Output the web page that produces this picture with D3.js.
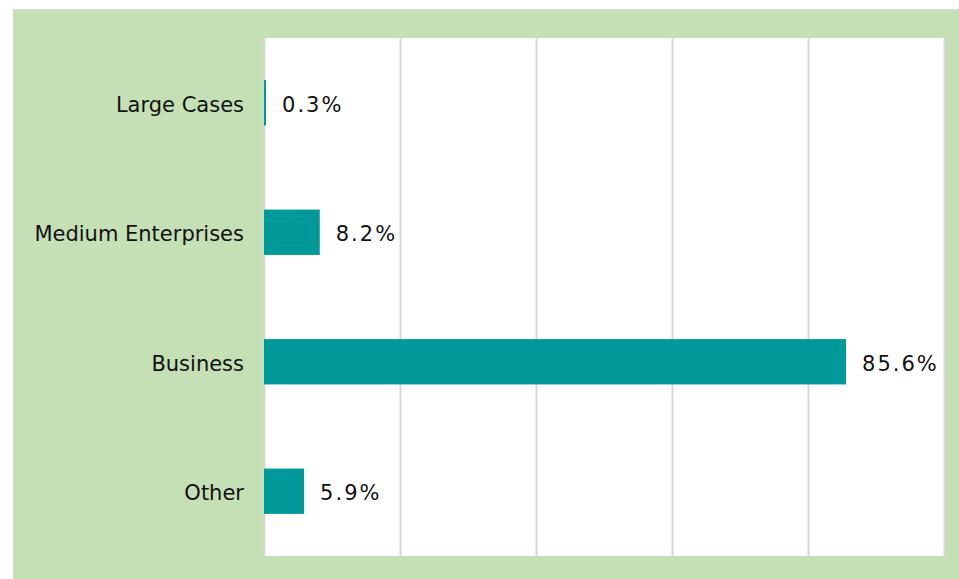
<!DOCTYPE html>
<html>
<head>
<meta charset="utf-8">
<script src="https://cdn.jsdelivr.net/npm/d3@7"></script>
<style>
  body { margin: 0; background: #fff; }
  svg { display: block; font-family: "DejaVu Sans", Verdana, sans-serif; }
</style>
</head>
<body>
<svg id="chart" width="959" height="579"></svg>
<script>
// data
var categories = ["Large Cases", "Medium Enterprises", "Business", "Other"];
var shares = [0.3, 8.2, 85.6, 5.9];
var gridTicks = [0, 20, 40, 60, 80, 100];

var w = 959, h = 579;
var svg = d3.select("#chart");

// green outer panel with thin grey edge
svg.append("rect")
    .attr("x", 13.5).attr("y", 9.5)
    .attr("width", w - 13).attr("height", h - 9)
    .style("fill", "#c5e0b4")
    .style("stroke", "#d9d9d9")
    .style("stroke-width", 1);

var plot = { left: 264, right: 944, top: 38, bottom: 556 };

// white plot area
svg.append("rect")
    .attr("x", plot.left).attr("y", plot.top)
    .attr("width", plot.right - plot.left)
    .attr("height", plot.bottom - plot.top)
    .style("fill", "#fff");

var xScale = d3.scaleLinear().domain([0, 100]).range([plot.left, plot.right]);
var yScale = d3.scaleBand()
    .domain(categories)
    .range([plot.top, plot.bottom])
    .paddingInner(0.65)
    .paddingOuter(0.325);

// vertical gridlines
var grid = svg.append("g")
    .attr("class", "grid")
    .attr("transform", `translate(0,${plot.bottom})`)
    .call(d3.axisBottom(xScale)
        .tickValues(gridTicks)
        .tickSize(-(plot.bottom - plot.top))
        .tickFormat(""));
grid.select(".domain").remove();
grid.selectAll("line")
    .style("stroke", "#d9d9d9")
    .style("stroke-width", 2);

// category labels
var yAxis = svg.append("g")
    .attr("transform", `translate(${plot.left},0)`)
    .call(d3.axisLeft(yScale).tickSize(0).tickPadding(20));
yAxis.select(".domain").remove();
yAxis.selectAll("text")
    .attr("dy", "0.42em")
    .style("font-family", "\"DejaVu Sans\", Verdana, sans-serif")
    .style("font-size", "21px")
    .style("fill", "#111");

// bars
var rows = categories.map((c, i) => ({ name: c, value: shares[i] }));
svg.selectAll(".bar")
    .data(rows)
    .enter().append("rect")
    .attr("class", "bar")
    .attr("x", xScale(0))
    .attr("y", d => yScale(d.name))
    .attr("width", d => Math.max(2, xScale(d.value) - xScale(0)))
    .attr("height", yScale.bandwidth())
    .style("fill", "#009999");

// value labels
svg.selectAll(".value")
    .data(rows)
    .enter().append("text")
    .attr("class", "value")
    .attr("x", d => Math.max(xScale(0) + 2, xScale(d.value)) + 16)
    .attr("y", d => yScale(d.name) + yScale.bandwidth() / 2)
    .attr("dy", "0.42em")
    .style("font-size", "21px")
    .style("letter-spacing", "2px")
    .style("fill", "#111")
    .text(d => d.value.toFixed(1) + "%");
</script>
</body>
</html>
